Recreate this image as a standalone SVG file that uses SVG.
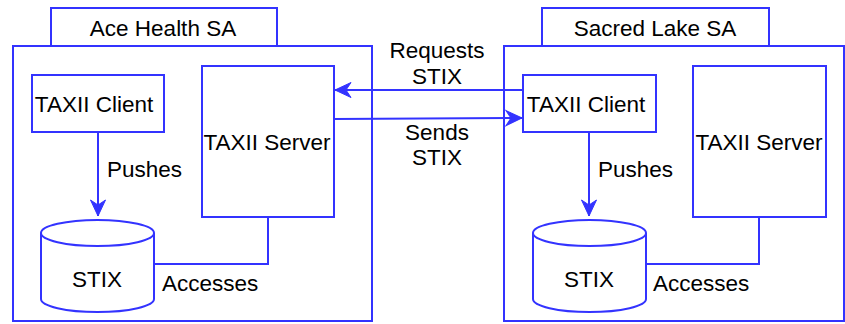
<svg xmlns="http://www.w3.org/2000/svg" width="845" height="324" viewBox="0 0 845 324">
  <style>
    .box { fill: #ffffff; stroke: #3333ff; stroke-width: 2; }
    .edge { fill: none; stroke: #3333ff; stroke-width: 2; }
    .lbl { font-family: "Liberation Sans", Arial, sans-serif; font-size: 22.5px; fill: #000000; text-anchor: middle; }
    .start { text-anchor: start; }
  </style>
  <defs>
    <marker id="arrow" markerUnits="userSpaceOnUse" markerWidth="18" markerHeight="18" viewBox="-17 -9 18 18" refX="0" refY="0" orient="auto">
      <path d="M0,0 L-16,-7.5 L-11,0 L-16,7.5 Z" fill="#3333ff" stroke="#3333ff" stroke-width="1"/>
    </marker>
  </defs>

  <!-- Ace Health SA -->
  <g id="ace-health">
    <rect class="box" x="51" y="8" width="226" height="38"/>
    <text class="lbl" x="163" y="36">Ace Health SA</text>
    <rect class="box" x="13" y="46" width="359" height="275"/>
  </g>
  <g id="ace-client">
    <rect class="box" x="32" y="75" width="132" height="57"/>
    <text class="lbl" x="94" y="112">TAXII Client</text>
  </g>
  <g id="ace-server">
    <rect class="box" x="202" y="66" width="132" height="151"/>
    <text class="lbl" x="267" y="150">TAXII Server</text>
  </g>
  <g id="ace-stix">
    <path class="box" d="M41,233 L41,299 A56.5,13 0 0 0 154,299 L154,233 A56.5,13 0 0 0 41,233 Z"/>
    <path class="edge" d="M41,233 A56.5,13 0 0 0 154,233"/>
    <text class="lbl" x="97" y="287">STIX</text>
  </g>

  <!-- Sacred Lake SA -->
  <g id="sacred-lake">
    <rect class="box" x="542" y="8" width="227" height="38"/>
    <text class="lbl" x="655" y="36">Sacred Lake SA</text>
    <rect class="box" x="504" y="46" width="340" height="275"/>
  </g>
  <g id="sacred-client">
    <rect class="box" x="523" y="75" width="133" height="57"/>
    <text class="lbl" x="586" y="112">TAXII Client</text>
  </g>
  <g id="sacred-server">
    <rect class="box" x="693" y="66" width="133" height="151"/>
    <text class="lbl" x="759" y="150">TAXII Server</text>
  </g>
  <g id="sacred-stix">
    <path class="box" d="M533,233 L533,299 A56.5,13 0 0 0 646,299 L646,233 A56.5,13 0 0 0 533,233 Z"/>
    <path class="edge" d="M533,233 A56.5,13 0 0 0 646,233"/>
    <text class="lbl" x="589" y="287">STIX</text>
  </g>

  <!-- Connectors -->
  <g id="connectors">
    <path class="edge" d="M98,132 L98,216" marker-end="url(#arrow)"/>
    <path class="edge" d="M154,264 L268,264 L268,217"/>
    <path class="edge" d="M589,132 L589,216" marker-end="url(#arrow)"/>
    <path class="edge" d="M646,264 L759,264 L759,217"/>
    <path class="edge" d="M523,90 L335,90" marker-end="url(#arrow)"/>
    <path class="edge" d="M334,119 L522,118" marker-end="url(#arrow)"/>
  </g>

  <!-- Connector labels -->
  <g id="labels">
    <text class="lbl start" x="107" y="177">Pushes</text>
    <text class="lbl start" x="162" y="291">Accesses</text>
    <text class="lbl start" x="598" y="177">Pushes</text>
    <text class="lbl start" x="653" y="291">Accesses</text>
    <text class="lbl" x="437" y="58">Requests</text>
    <text class="lbl" x="437" y="84">STIX</text>
    <text class="lbl" x="437" y="140">Sends</text>
    <text class="lbl" x="437" y="165">STIX</text>
  </g>
</svg>
